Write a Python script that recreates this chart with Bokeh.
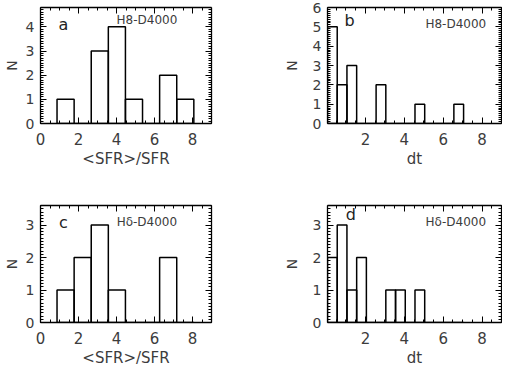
from bokeh.plotting import figure
from bokeh.layouts import column, row
from bokeh.models import LinearAxis, FixedTicker, Label, Range1d, ColumnDataSource
from bokeh.embed import file_html
from bokeh.resources import INLINE

# ---- data ----
sfr_left = [0.87, 1.77, 2.67, 3.57, 4.47, 5.37, 6.27, 7.17]
sfr_right = [1.77, 2.67, 3.57, 4.47, 5.37, 6.27, 7.17, 8.07]
n_a = [1, 0, 3, 4, 1, 0, 2, 1]
n_c = [1, 2, 3, 1, 0, 0, 2, 0]

dt_left = [0.05, 0.55, 1.05, 1.55, 2.05, 2.55, 3.05, 3.55, 4.05, 4.55, 5.05, 5.55, 6.05, 6.55]
dt_right = [0.55, 1.05, 1.55, 2.05, 2.55, 3.05, 3.55, 4.05, 4.55, 5.05, 5.55, 6.05, 6.55, 7.05]
n_b = [5, 2, 3, 0, 0, 2, 0, 0, 0, 1, 0, 0, 0, 1]
n_d = [2, 3, 1, 2, 0, 0, 1, 1, 0, 1, 0, 0, 0, 0]

sfr_ticks = [0, 2, 4, 6, 8]
dt_ticks = [2, 4, 6, 8]

FONT = "DejaVu Sans"
TXT = "#3c3c3c"


def style_axis(ax, labels=True):
    ax.axis_line_color = "black"
    ax.axis_line_width = 1.3
    ax.major_tick_in = 6
    ax.major_tick_out = 0
    ax.minor_tick_in = 3
    ax.minor_tick_out = 0
    ax.major_tick_line_color = "black"
    ax.minor_tick_line_color = "black"
    ax.major_label_text_font = FONT
    ax.major_label_text_color = TXT
    ax.axis_label_text_font = FONT
    ax.axis_label_text_color = TXT
    ax.axis_label_text_font_style = "normal"
    if not labels:
        ax.major_label_text_font_size = "0px"
        ax.major_label_text_color = None
        ax.major_label_standoff = 0
        ax.axis_label = None


def panel(left, right, counts, xr, yr, xticks, ymaj, xlabel, tag, tag_xy,
          note, note_xy, w, h, bl, br, bt, bb, ystand):
    p = figure(width=w, height=h, x_range=Range1d(*xr), y_range=Range1d(*yr),
               output_backend="svg", toolbar_location=None,
               min_border_left=bl, min_border_right=br,
               min_border_top=bt, min_border_bottom=bb)
    p.xaxis.visible = False
    p.yaxis.visible = False
    p.grid.visible = False
    p.outline_line_color = None
    p.background_fill_color = "white"
    p.border_fill_color = "white"

    xminor = [i * 0.5 for i in range(0, 19)]
    yminor = [i * 0.1 for i in range(0, 70)]

    bx = LinearAxis(axis_label=xlabel)
    style_axis(bx)
    bx.ticker = FixedTicker(ticks=xticks, minor_ticks=xminor)
    bx.major_label_text_font_size = "15px"
    bx.axis_label_text_font_size = "15px"
    bx.major_label_standoff = 9
    bx.axis_label_standoff = 2
    p.add_layout(bx, "below")

    ly = LinearAxis(axis_label="N")
    style_axis(ly)
    ly.ticker = FixedTicker(ticks=ymaj, minor_ticks=yminor)
    ly.major_label_text_font_size = "14px"
    ly.axis_label_text_font_size = "14px"
    ly.major_label_standoff = 6
    ly.axis_label_standoff = ystand
    ly.major_label_orientation = "horizontal"
    p.add_layout(ly, "left")

    tx = LinearAxis()
    style_axis(tx, labels=False)
    tx.ticker = FixedTicker(ticks=xticks, minor_ticks=xminor)
    p.add_layout(tx, "above")

    ry = LinearAxis()
    style_axis(ry, labels=False)
    ry.ticker = FixedTicker(ticks=ymaj, minor_ticks=yminor)
    p.add_layout(ry, "right")

    src = ColumnDataSource(dict(left=left, right=right, top=counts,
                                bottom=[0] * len(counts)))
    p.quad(left="left", right="right", top="top", bottom="bottom", source=src,
           fill_color=None, line_color="black", line_width=1.5)

    p.add_layout(Label(x=tag_xy[0], y=tag_xy[1], text=tag, text_font=FONT,
                       text_font_size="16px", text_color="#222222",
                       text_align="center", text_baseline="middle"))
    p.add_layout(Label(x=note_xy[0], y=note_xy[1], text=note, text_font=FONT,
                       text_font_size="12px", text_color=TXT,
                       text_align="center", text_baseline="middle"))
    return p


pa = panel(sfr_left, sfr_right, n_a, (0, 9), (0, 4.8), sfr_ticks, [0, 1, 2, 3, 4],
           "<SFR>/SFR", "a", (1.2, 4.1), "H8-D4000", (5.6, 4.28),
           280, 190, 30, 69, 7, 67, 3)
pb = panel(dt_left, dt_right, n_b, (0.05, 9), (0, 6.0), dt_ticks, [0, 1, 2, 3, 4, 5, 6],
           "dt", "b", (1.19, 5.34), "H8-D4000", (6.65, 5.15),
           222, 190, 42, 1, 7, 67, 10)
pc = panel(sfr_left, sfr_right, n_c, (0, 9), (0, 3.6), sfr_ticks, [0, 1, 2, 3],
           "<SFR>/SFR", "c", (1.2, 3.09), "H\u03b4-D4000", (5.6, 3.09),
           280, 179, 30, 69, 15, 40, 3)
pd_ = panel(dt_left, dt_right, n_d, (0.05, 9), (0, 3.6), dt_ticks, [0, 1, 2, 3],
            "dt", "d", (1.25, 3.32), "H\u03b4-D4000", (6.65, 3.09),
            222, 179, 42, 1, 15, 40, 10)

layout = column(row(pa, pb), row(pc, pd_))

open("out.html", "w").write(file_html(layout, INLINE))
